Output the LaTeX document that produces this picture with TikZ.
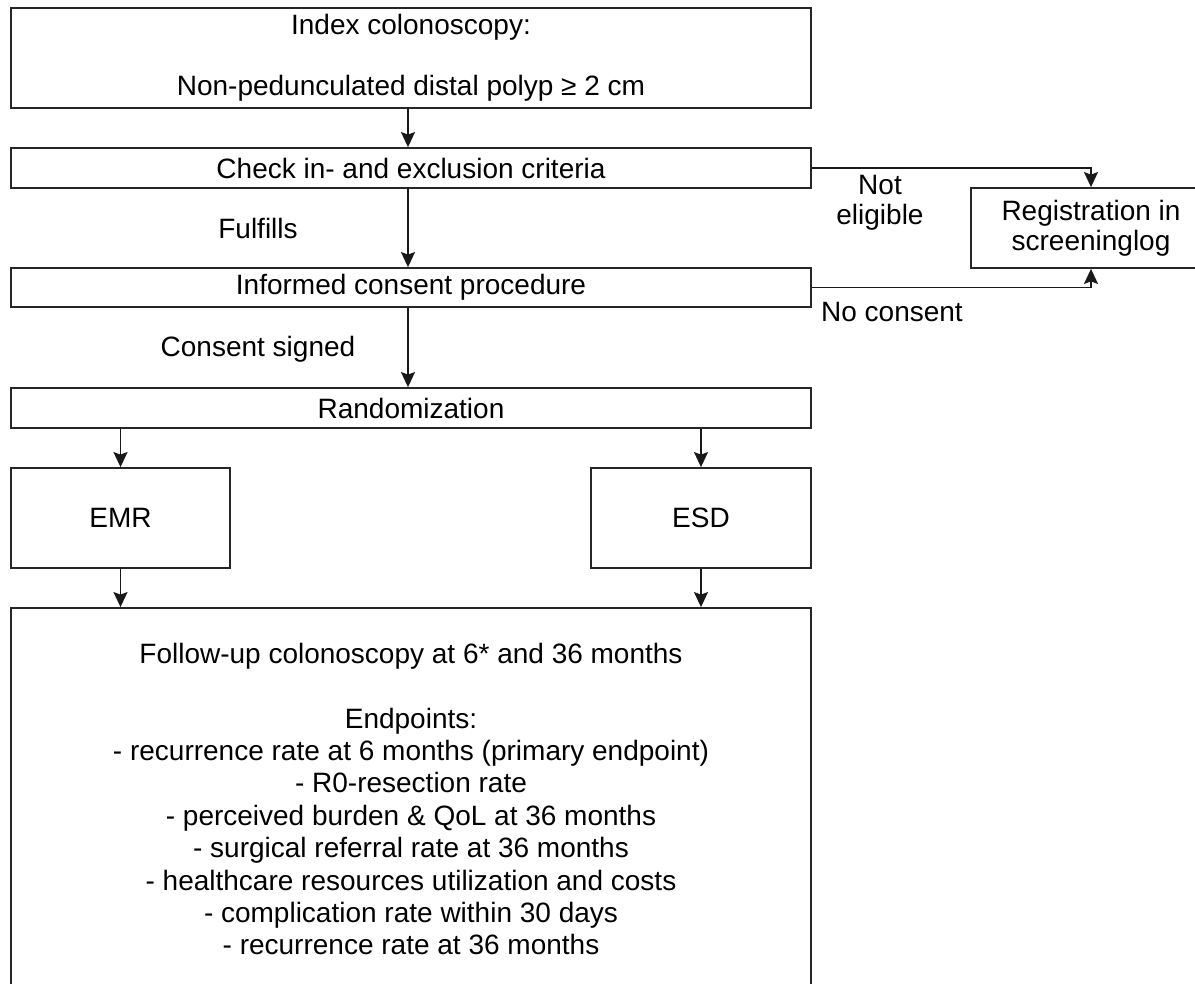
\documentclass[tikz,border=0pt]{standalone}
\usepackage{fontspec}
\setmainfont{Liberation Sans}
\usetikzlibrary{arrows.meta}
\begin{document}
\begin{tikzpicture}[x=1pt,y=-1pt,
  box/.style={draw=black!85, line width=1.8pt, rectangle, inner sep=0pt, align=center, font=\fontsize{28}{32.4}\selectfont},
  lbl/.style={inner sep=0pt, align=center, font=\fontsize{28}{30}\selectfont},
  arr/.style={draw=black!90, line width=1.8pt, -{Stealth[length=15pt,width=14pt,inset=2.5pt]}}
]
\useasboundingbox (0,0) rectangle (1195,984);
\clip (0,0) rectangle (1195,984);

\node[box, minimum width=800pt, minimum height=100pt, font=\fontsize{28}{30.5}\selectfont] (b1) at (411,58)
  {Index colonoscopy:\\\mbox{}\\Non-pedunculated distal polyp ≥ 2 cm};
\node[box, minimum width=800pt, minimum height=40pt] (b2) at (411,168) {Check in- and exclusion criteria};
\node[box, minimum width=800pt, minimum height=39pt] (b3) at (411,287.5) {Informed consent procedure};
\node[box, minimum width=800pt, minimum height=40pt] (b4) at (411,408) {Randomization};
\node[box, minimum width=219pt, minimum height=100pt] (emr) at (120.5,518) {EMR};
\node[box, minimum width=220pt, minimum height=100pt] (esd) at (701,518) {ESD};
\node[box, minimum width=800pt, minimum height=382pt] (fu) at (411,799)
  {Follow-up colonoscopy at 6* and 36 months\\\mbox{}\\Endpoints:\\
   - recurrence rate at 6 months (primary endpoint)\\
   - R0-resection rate\\
   - perceived burden \& QoL at 36 months\\
   - surgical referral rate at 36 months\\
   - healthcare resources utilization and costs\\
   - complication rate within 30 days\\
   - recurrence rate at 36 months};
\node[box, minimum width=240pt, minimum height=80pt, font=\fontsize{28}{30}\selectfont] (reg) at (1091,228)
  {Registration in\\screeninglog};

\draw[arr] ([xshift=-3pt]b1.south) -- ([xshift=-3pt]b2.north);
\draw[arr] ([xshift=-3pt]b2.south) -- ([xshift=-3pt]b3.north);
\draw[arr] ([xshift=-3pt]b3.south) -- ([xshift=-3pt]b4.north);
\draw[arr] (b4.south -| emr.north) -- (emr.north);
\draw[arr] (b4.south -| esd.north) -- (esd.north);
\draw[arr] (emr.south) -- (emr.south |- fu.north);
\draw[arr] (esd.south) -- (esd.south |- fu.north);
\draw[arr] (b2.east) -| (reg.north);
\draw[arr] (b3.east) -| (reg.south);

\node[lbl] (ne) at (880,203) {Not\\eligible};
\node[lbl] (nc) at (892,312) {No consent};
\node[lbl] (ff) at (258,228) {Fulfills};
\node[lbl] (cs) at (258,349) {Consent signed};
\end{tikzpicture}
\end{document}
